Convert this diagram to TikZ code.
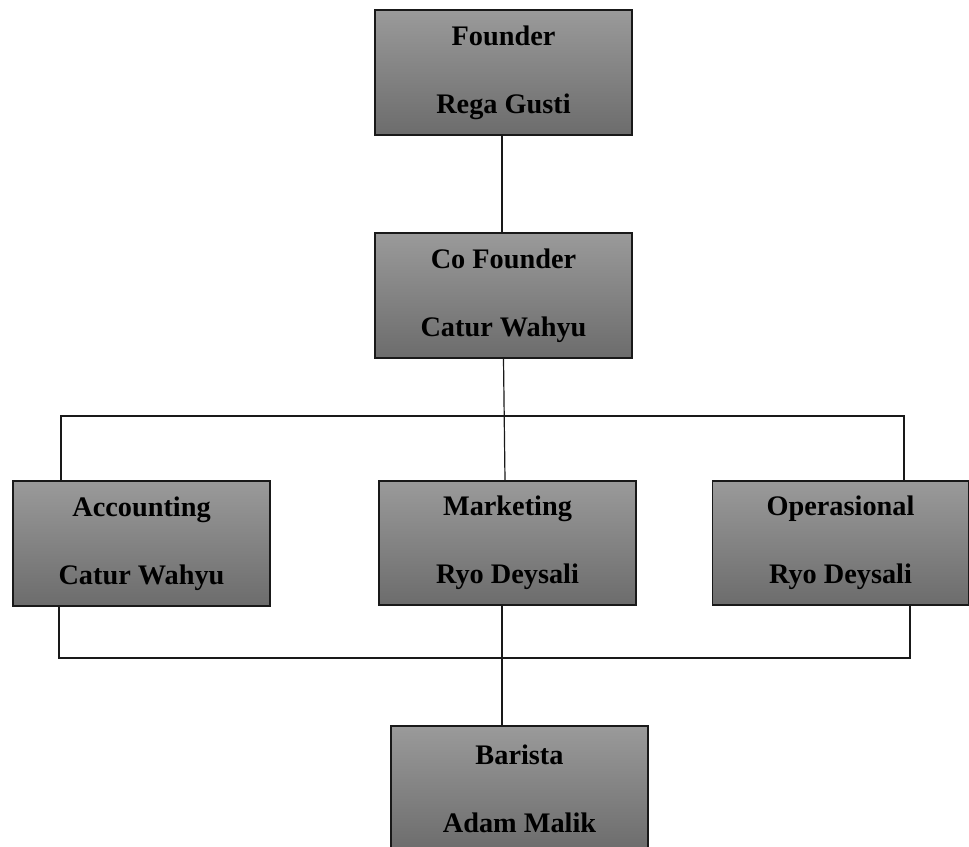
\documentclass[tikz,border=0pt]{standalone}
\usepackage{fontspec}
\setmainfont{Liberation Serif}
\definecolor{boxtop}{RGB}{154,154,154}
\definecolor{boxmid}{RGB}{143,143,143}
\definecolor{boxbot}{RGB}{108,108,108}
\definecolor{linecol}{RGB}{25,25,25}
\begin{document}
\begin{tikzpicture}[x=1pt,y=-1pt,
  orgbox/.style={draw=linecol, line width=1.4pt, rectangle, inner sep=0pt,
    top color=boxtop, middle color=boxmid, bottom color=boxbot,
    minimum width=257pt, minimum height=125pt, align=center,
    font=\fontsize{28.3}{68}\selectfont\bfseries},
  conn/.style={draw=linecol, line width=1.2pt}]
\useasboundingbox (0,0) rectangle (969,846);
\node[orgbox] (F) at (503.5,72.5) {Founder\\Rega Gusti};
\node[orgbox] (C) at (503.5,295.5) {Co Founder\\Catur Wahyu};
\node[orgbox] (A) at (141.5,543.5) {Accounting\\Catur Wahyu};
\node[orgbox, minimum height=124pt] (M) at (507.5,543) {Marketing\\Ryo Deysali};
\node[orgbox, minimum width=256pt, minimum height=124pt] (O) at (840.5,543) {Operasional\\Ryo Deysali};
\node[orgbox] (B) at (519.5,788.5) {Barista\\Adam Malik};
\coordinate (fx) at (502,0);
\coordinate (tL) at (61,416);
\coordinate (tR) at (904,416);
\coordinate (bL) at (59,658);
\coordinate (bR) at (910,658);
\coordinate (mx) at (502,0);
\draw[conn] (F.south -| fx) -- (C.north -| fx);
\draw[conn] (C.south) -- ([xshift=-2.5pt]M.north);
\draw[conn] (A.north -| tL) -- (tL) -- (tR) -- (O.north -| tR);
\draw[conn] (A.south -| bL) -- (bL) -- (bR) -- (O.south -| bR);
\draw[conn] (M.south -| mx) -- (B.north -| mx);
\end{tikzpicture}
\end{document}
